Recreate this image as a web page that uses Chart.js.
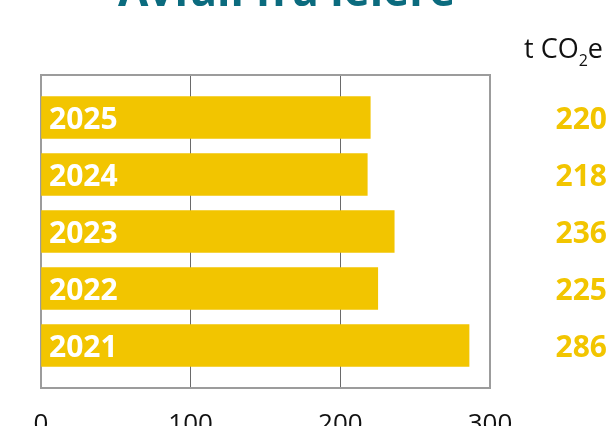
<!DOCTYPE html>
<html>
<head>
<meta charset="utf-8">
<script src="https://cdn.jsdelivr.net/npm/chart.js@4"></script>
<style>
  html, body { margin: 0; padding: 0; background: #fff; }
  #wrap { width: 612px; height: 426px; position: relative; overflow: hidden; }
</style>
</head>
<body>
<div id="wrap"><canvas id="chart" width="612" height="426"></canvas></div>
<script>
// data, top to bottom
const years = ["2025", "2024", "2023", "2022", "2021"];
const emissions = [220, 218, 236, 225, 286];
const xTicks = [0, 100, 200, 300];

const YELLOW = "#f2c500";
const TEAL = "#0b6b7e";
const FONT = "'Open Sans', 'DejaVu Sans', sans-serif";

/* frame around plot */
const framePlugin = {
  id: "frame",
  beforeDatasetsDraw(chart){
    const a = chart.chartArea;
    const ctx = chart.ctx;
    ctx.save();
    ctx.strokeStyle = "#9c9c9c";
    ctx.lineWidth = 2;
    ctx.strokeRect(a.left, a.top, a.right - a.left, a.bottom - a.top);
    ctx.restore();
  }
};

/* year labels in bars, values to the right, unit, title */
const labelsPlugin = {
  id: "labels",
  afterDatasetsDraw(chart){
    const ctx = chart.ctx;
    const meta = chart.getDatasetMeta(0);
    ctx.save();
    ctx.textBaseline = "middle";
    ctx.font = "bold 30px " + FONT;
    meta.data.forEach((bar, i) => {
      ctx.fillStyle = "#fff";
      ctx.textAlign = "left";
      ctx.fillText(years[i], chart.chartArea.left + 8, bar.y + 3);
      ctx.fillStyle = YELLOW;
      ctx.textAlign = "right";
      ctx.fillText(String(emissions[i]), 607, bar.y + 3);
    });

    // unit
    ctx.textBaseline = "alphabetic";
    ctx.textAlign = "left";
    ctx.fillStyle = "#111";
    ctx.font = "27px " + FONT;
    let x = 524;
    ctx.fillText("t CO", x, 58);
    x += ctx.measureText("t CO").width;
    ctx.font = "16px " + FONT;
    ctx.fillText("2", x, 66);
    x += ctx.measureText("2").width;
    ctx.font = "27px " + FONT;
    ctx.fillText("e", x, 58);

    // title (cut off at the top)
    ctx.fillStyle = TEAL;
    ctx.font = "bold 44px " + FONT;
    ctx.fillText("Avfall fra leiere", 118, 6);
    ctx.restore();
  }
};

new Chart(document.getElementById("chart"), {
  type: "bar",
  data: {
    datasets: [{
      data: years.map((y, i) => ({ x: emissions[i], y: i })),
      backgroundColor: YELLOW,
      borderWidth: 0,
      barThickness: 42
    }]
  },
  options: {
    indexAxis: "y",
    responsive: false,
    animation: false,
    events: [],
    layout: { padding: { left: 41, right: 122, top: 75, bottom: 0 } },
    plugins: { legend: { display: false }, tooltip: { enabled: false } },
    scales: {
      y: {
        type: "linear",
        display: false,
        reverse: true,
        offset: false,
        min: -0.746,
        max: 4.746
      },
      x: {
        type: "linear",
        min: 0,
        max: 300,
        afterBuildTicks(scale){ scale.ticks = xTicks.map(v => ({ value: v })); },
        afterFit(scale){ scale.height = 38; },
        grid: { color: "#6a6a6a", lineWidth: 1, drawTicks: false },
        border: { display: false },
        ticks: {
          padding: 21,
          color: "#111",
          font: { family: FONT, size: 26 }
        }
      }
    }
  },
  plugins: [framePlugin, labelsPlugin]
});
</script>
</body>
</html>
